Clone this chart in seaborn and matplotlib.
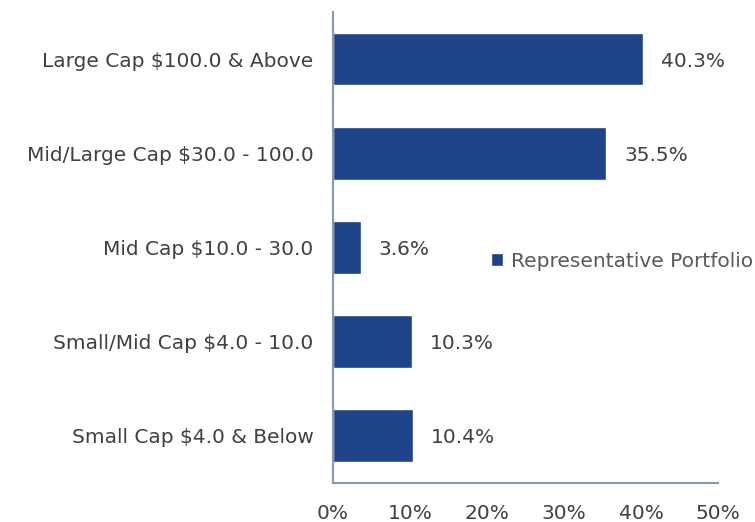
import pandas as pd
import matplotlib.pyplot as plt
import seaborn as sns

# Market cap buckets ($bn) and portfolio weights (%)
categories = ['Large Cap $100.0 & Above', 'Mid/Large Cap $30.0 - 100.0',
              'Mid Cap $10.0 - 30.0', 'Small/Mid Cap $4.0 - 10.0',
              'Small Cap $4.0 & Below']
weights = [40.3, 35.5, 3.6, 10.3, 10.4]
x_ticks = [0, 10, 20, 30, 40, 50]
series_name = 'Representative Portfolio'

df = pd.DataFrame({'bucket': categories, 'weight': weights, 'series': series_name})

sns.set_style('white')
plt.rcParams['font.family'] = ['DejaVu Sans']

bar_color = '#1f4388'
text_color = '#404040'
spine_color = '#8a99a3'
fs = 14.5

fig = plt.figure(figsize=(7.55, 5.22), dpi=100)
ax = fig.add_axes([0.441, 0.075, 0.51, 0.902])

sns.barplot(data=df, y='bucket', x='weight', hue='series', orient='h',
            palette=[bar_color], width=0.56, ax=ax, saturation=1)

# value labels at the end of each bar
for i, v in enumerate(weights):
    ax.text(v + 2.3, i, f'{v:.1f}%', va='center_baseline', ha='left',
            fontsize=fs, color=text_color)

ax.set_xlim(0, 50)
ax.set_ylim(4.5, -0.5)
ax.set_xticks(x_ticks)
ax.set_xticklabels([f'{t}%' for t in x_ticks])
ax.set_xlabel('')
ax.set_ylabel('')
ax.tick_params(axis='both', length=0, labelsize=fs, colors=text_color)
ax.tick_params(axis='y', pad=14)
ax.tick_params(axis='x', pad=15)

for side in ['top', 'right']:
    ax.spines[side].set_visible(False)
for side in ['left', 'bottom']:
    ax.spines[side].set_color(spine_color)
    ax.spines[side].set_linewidth(1.5)

leg = ax.legend(loc='center left', bbox_to_anchor=(0.39, 0.471), frameon=False,
                fontsize=fs, handlelength=0.6, handleheight=0.6,
                handletextpad=0.4, borderaxespad=0)
for t in leg.get_texts():
    t.set_color('#595959')

fig.savefig('out.png', dpi=100)
